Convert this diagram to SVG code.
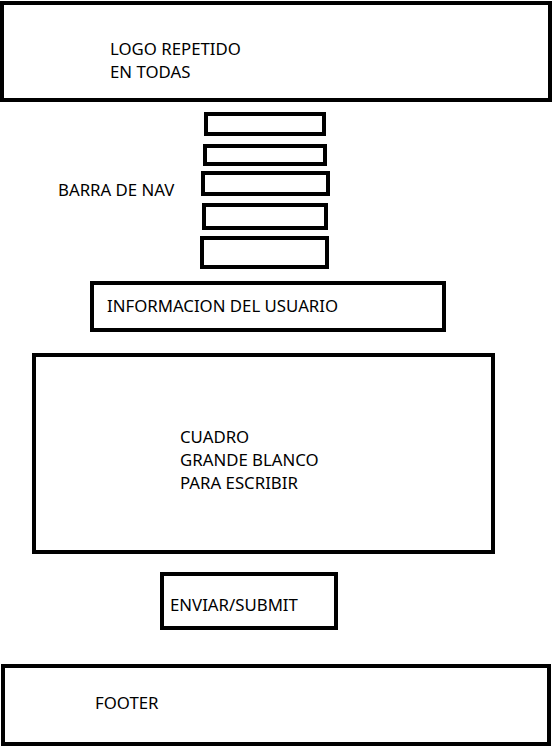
<svg xmlns="http://www.w3.org/2000/svg" width="555" height="750" viewBox="0 0 555 750">
<style>
.box{fill:#fff;stroke:#000;stroke-width:4}
.t{font-family:"Noto Sans","Open Sans",sans-serif;font-size:16.8px;fill:#000}
</style>
<rect x="0" y="0" width="555" height="750" fill="#fff"/>
<g id="logo">
<rect class="box" x="2" y="3" width="548" height="97"/>
<text class="t" x="110" y="55">LOGO REPETIDO</text>
<text class="t" x="110" y="78">EN TODAS</text>
</g>
<g id="nav">
<text class="t" x="58" y="196">BARRA DE NAV</text>
<rect class="box" x="206" y="114" width="118" height="20"/>
<rect class="box" x="205" y="146" width="120" height="18"/>
<rect class="box" x="203" y="173" width="125" height="21"/>
<rect class="box" x="204" y="205" width="122" height="23"/>
<rect class="box" x="202" y="238" width="125" height="29"/>
</g>
<g id="info">
<rect class="box" x="92" y="283" width="352" height="47"/>
<text class="t" x="107" y="312">INFORMACION DEL USUARIO</text>
</g>
<g id="cuadro">
<rect class="box" x="34" y="355" width="459" height="197"/>
<text class="t" x="180" y="443">CUADRO</text>
<text class="t" x="180" y="466">GRANDE BLANCO</text>
<text class="t" x="180" y="489">PARA ESCRIBIR</text>
</g>
<g id="submit">
<rect class="box" x="162" y="574" width="174" height="54"/>
<text class="t" x="170" y="611">ENVIAR/SUBMIT</text>
</g>
<g id="footer">
<rect class="box" x="3" y="666" width="546" height="78"/>
<text class="t" x="95" y="709">FOOTER</text>
</g>
<g id="connectors"></g>
</svg>
